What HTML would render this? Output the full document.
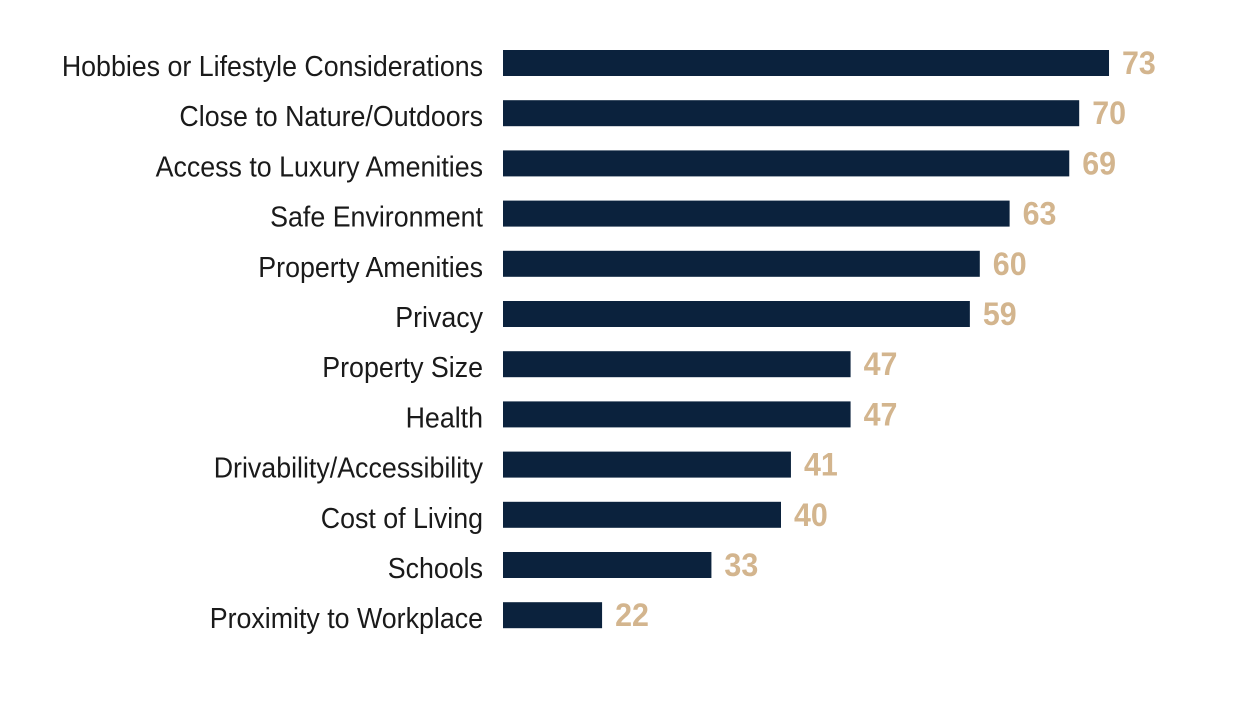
<!DOCTYPE html>
<html><head><meta charset="utf-8"><style>
html,body{margin:0;padding:0;background:#fff;}
svg{display:block;}
text{font-family:"Liberation Sans",sans-serif;}
</style></head><body>
<svg id="chart" width="1257" height="705" viewBox="0 0 1257 705"></svg>
<script>
const categories=["Hobbies or Lifestyle Considerations","Close to Nature/Outdoors","Access to Luxury Amenities","Safe Environment","Property Amenities","Privacy","Property Size","Health","Drivability/Accessibility","Cost of Living","Schools","Proximity to Workplace"];
const values=[73,70,69,63,60,59,47,47,41,40,33,22];
const valueLabels=["73","70","69","63","60","59","47","47","41","40","33","22"];

const NS="http://www.w3.org/2000/svg";
const svg=document.getElementById('chart');
function xScale(v){return 383.4+v*9.94;}
function yCenter(i){return 63+i*50.2;}
const barStart=503, barH=26;
categories.forEach((c,i)=>{
  const cy=yCenter(i);
  const r=document.createElementNS(NS,'rect');
  r.setAttribute('x',barStart);
  r.setAttribute('y',cy-barH/2);
  r.setAttribute('width',Math.max(0,xScale(values[i])-barStart));
  r.setAttribute('height',barH);
  r.setAttribute('fill','#0b223d');
  
  
  svg.appendChild(r);

  const t=document.createElementNS(NS,'text');
  t.setAttribute('transform','translate(483,'+(cy+13)+') scale(0.94,1)');
  t.setAttribute('text-anchor','end');
  t.setAttribute('font-size','28.5');
  t.setAttribute('fill','#1a1a1a');
  t.textContent=c;
  
  
  svg.appendChild(t);

  const v=document.createElementNS(NS,'text');
  v.setAttribute('transform','translate('+(xScale(values[i])+13)+','+(cy+11)+') scale(0.95,1)');
  v.setAttribute('font-size','32');
  v.setAttribute('font-weight','bold');
  v.setAttribute('fill','#d3b58e');
  v.textContent=valueLabels[i];
  
  
  svg.appendChild(v);
});
</script>
</body></html>
